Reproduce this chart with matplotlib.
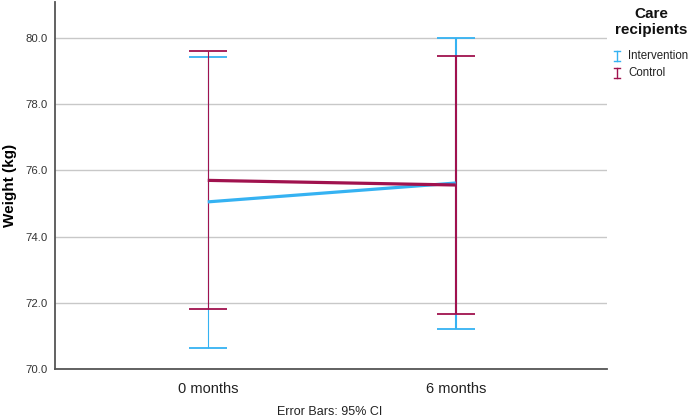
import matplotlib
matplotlib.use("Agg")
import matplotlib.pyplot as plt
from matplotlib.lines import Line2D

plt.rcParams['font.family'] = ['Liberation Sans', 'DejaVu Sans']

categories = ["0 months", "6 months"]
series_names = ["Intervention", "Control"]
means = {"Intervention": [75.05, 75.62], "Control": [75.70, 75.56]}
ci_low = {"Intervention": [70.63, 71.20], "Control": [71.81, 71.66]}
ci_high = {"Intervention": [79.44, 80.00], "Control": [79.62, 79.47]}
yticks = [70.0, 72.0, 74.0, 76.0, 78.0, 80.0]

colors = {"Intervention": "#35B2F2", "Control": "#A0124E"}
bar_lw = [0.8, 1.5]

W, H = 692, 419
fig = plt.figure(figsize=(W / 100, H / 100), dpi=100)
ax = fig.add_axes([55 / W, 1 - 369 / H, (607 - 55) / W, (369 - 2) / H])

x = list(range(len(categories)))
for name in series_names:
    c = colors[name]
    ax.plot(x, means[name], color=c, lw=2.3, solid_capstyle='butt', zorder=4)
    for i in x:
        m = means[name][i]
        ax.errorbar([i], [m],
                    yerr=[[m - ci_low[name][i]], [ci_high[name][i] - m]],
                    fmt='none', ecolor=c, elinewidth=bar_lw[i],
                    capsize=13.5, capthick=1.3, zorder=3)

ax.set_xlim(-0.616, 1.61)
ax.set_ylim(70.0, 81.09)
ax.set_xticks(x)
ax.set_xticklabels(categories, fontsize=10.5, color='#222222')
ax.set_yticks(yticks)
ax.set_yticklabels([f"{v:.1f}" for v in yticks], fontsize=8.2, color='#333333')
ax.tick_params(axis='both', length=0)
ax.tick_params(axis='x', pad=9)
ax.tick_params(axis='y', pad=5)
ax.yaxis.grid(True, color='#C8C8C8', lw=1.0)
ax.set_axisbelow(True)
for s in ['top', 'right']:
    ax.spines[s].set_visible(False)
for s in ['left', 'bottom']:
    ax.spines[s].set_color('#555555')
    ax.spines[s].set_linewidth(1.3)
ax.set_ylabel("Weight (kg)", fontsize=11, fontweight='bold')
ax.yaxis.set_label_coords((17 - 55) / (607 - 55), 1 - (185 - 2) / (369 - 2))

fig.text(330 / W, 1 - 412 / H, "Error Bars: 95% CI", ha='center', va='center',
         fontsize=9, color='#222222')

# legend
fig.text(651 / W, 1 - 22 / H, "Care\nrecipients", ha='center', va='center',
         fontsize=11, fontweight='bold', linespacing=1.25, color='#111111')
for k, name in enumerate(series_names):
    yc = 56 + k * 17
    c = colors[name]
    xs = 617
    fig.add_artist(Line2D([xs / W, xs / W], [1 - (yc - 5) / H, 1 - (yc + 5) / H],
                          color=c, lw=1.0, transform=fig.transFigure))
    for yy in (yc - 5, yc + 5):
        fig.add_artist(Line2D([(xs - 3) / W, (xs + 3) / W], [1 - yy / H, 1 - yy / H],
                              color=c, lw=1.0, transform=fig.transFigure))
    fig.text(628 / W, 1 - yc / H, name, ha='left', va='center', fontsize=8.3,
             color='#222222')

fig.savefig("out.png", dpi=100)
